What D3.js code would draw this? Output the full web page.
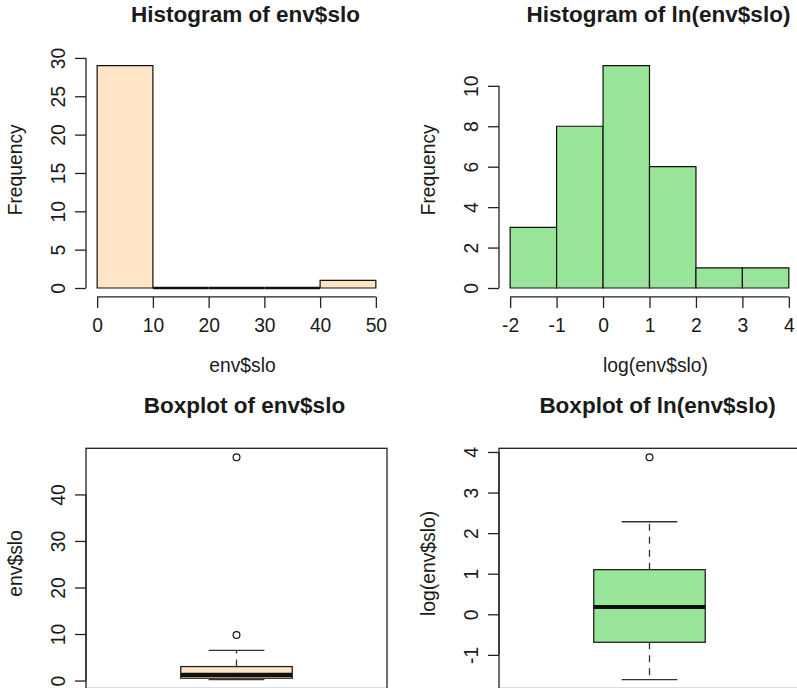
<!DOCTYPE html>
<html>
<head>
<meta charset="utf-8">
<script src="https://cdn.jsdelivr.net/npm/d3@7"></script>
<style>
  body { margin: 0; background: #fff; }
  svg { display: block; }
</style>
</head>
<body>
<script>
// Histogram of raw slope values
const rawBreaks = [0, 10, 20, 30, 40, 50];
const rawCounts = [29, 0, 0, 0, 1];
const rawXTicks = [0, 10, 20, 30, 40, 50];
const rawYTicks = [0, 5, 10, 15, 20, 25, 30];

// Histogram of log-transformed slope values
const logBreaks = [-2, -1, 0, 1, 2, 3, 4];
const logCounts = [3, 8, 11, 6, 1, 1];
const logXTicks = [-2, -1, 0, 1, 2, 3, 4];
const logYTicks = [0, 2, 4, 6, 8, 10];

// Boxplot summaries: lower whisker, Q1, median, Q3, upper whisker
const rawBox = [0.2, 0.5, 1.2, 3.0, 6.5];
const rawOutliers = [9.8, 48];
const rawBoxTicks = [0, 10, 20, 30, 40];
const logBox = [-1.61, -0.69, 0.18, 1.1, 2.28];
const logOutliers = [3.87];
const logBoxTicks = [-1, 0, 1, 2, 3, 4];

const W = 797, H = 688;
const FONT = '"Liberation Sans", Arial, Helvetica, sans-serif';
const INK = "#222";
const BASE = 19.3, MAIN = 22.5;

const svg = d3.select("body").append("svg")
  .attr("width", W).attr("height", H)
  .style("overflow", "hidden");

// panel layout: plot-region left edges per column, top edges per row
const colX = [86, 499], plotW = 301;
const rowY = [56.7, 448.3], plotH = 240.2;
const titleBase = [22, 413];

// R-style 4% range extension
function ext(lo, hi) { const d = (hi - lo) * 0.04; return [lo - d, hi + d]; }

// plain hyphen-minus labels
const fmt = d => String(d);

function title(text, cx, y) {
  svg.append("text").attr("x", cx).attr("y", y)
    .attr("text-anchor", "middle").attr("font-family", FONT)
    .attr("font-weight", "bold").attr("font-size", MAIN).attr("fill", "#1a1a1a")
    .text(text);
}

function yLabel(text, x, cy) {
  svg.append("text").attr("transform", `translate(${x},${cy}) rotate(-90)`)
    .attr("text-anchor", "middle").attr("font-family", FONT)
    .attr("font-size", BASE).attr("fill", "#1a1a1a").text(text);
}

function xLabel(text, cx, y) {
  svg.append("text").attr("x", cx).attr("y", y)
    .attr("text-anchor", "middle").attr("font-family", FONT)
    .attr("font-size", BASE).attr("fill", "#1a1a1a").text(text);
}

function leftAxis(scale, ticks, x) {
  const g = svg.append("g").attr("transform", `translate(${x},0)`)
    .call(d3.axisLeft(scale).tickValues(ticks).tickSize(11).tickSizeOuter(0)
      .tickFormat(fmt));
  g.select(".domain").remove();
  g.append("line")
    .attr("y1", scale(ticks[0])).attr("y2", scale(ticks[ticks.length - 1]))
    .attr("stroke", INK).attr("stroke-width", 1.3);
  g.selectAll(".tick line").attr("stroke", INK).attr("stroke-width", 1.3);
  g.selectAll(".tick text")
    .attr("x", 0).attr("y", 0).attr("dy", null)
    .attr("transform", "translate(-21.5,0) rotate(-90)")
    .attr("text-anchor", "middle")
    .attr("font-family", FONT).attr("font-size", BASE).attr("fill", "#1a1a1a");
  return g;
}

function bottomAxis(scale, ticks, y) {
  const g = svg.append("g").attr("transform", `translate(0,${y})`)
    .call(d3.axisBottom(scale).tickValues(ticks).tickSize(11).tickSizeOuter(0)
      .tickFormat(fmt));
  g.select(".domain").remove();
  g.append("line")
    .attr("x1", scale(ticks[0])).attr("x2", scale(ticks[ticks.length - 1]))
    .attr("stroke", INK).attr("stroke-width", 1.3);
  g.selectAll(".tick line").attr("stroke", INK).attr("stroke-width", 1.3);
  g.selectAll(".tick text")
    .attr("y", 35.5).attr("dy", null)
    .attr("font-family", FONT).attr("font-size", BASE).attr("fill", "#1a1a1a");
  return g;
}

function histogram(col, breaks, counts, xTicks, yTicks, fill, titleText, xlab) {
  const x0 = colX[col], y0 = rowY[0];
  const x = d3.scaleLinear()
    .domain(ext(breaks[0], breaks[breaks.length - 1]))
    .range([x0, x0 + plotW]);
  const y = d3.scaleLinear()
    .domain(ext(0, d3.max(counts)))
    .range([y0 + plotH, y0]);

  const bins = counts.map((c, i) => ({ a: breaks[i], b: breaks[i + 1], c }));
  svg.append("g").selectAll("path").data(bins).join("path")
    .attr("d", d => `M${x(d.a)},${y(0)}H${x(d.b)}V${y(d.c)}H${x(d.a)}Z`)
    .attr("fill", fill)
    .attr("stroke", "#111")
    .attr("stroke-width", d => d.c === 0 ? 2.4 : 1.2);

  leftAxis(y, yTicks, x0);
  bottomAxis(x, xTicks, y0 + plotH);

  title(titleText, x0 + plotW / 2 + 9, titleBase[0]);
  xLabel(xlab, x0 + plotW / 2 + 6, 372);
  yLabel("Frequency", x0 - 64, y0 + plotH / 2 - 7);
}

function boxplot(col, stats, outliers, lo, hi, yTicks, fill, titleText, ylab) {
  const x0 = colX[col], y0 = rowY[1];
  const x = d3.scaleLinear().domain(ext(0.5, 1.5)).range([x0, x0 + plotW]);
  const y = d3.scaleLinear().domain(ext(lo, hi)).range([y0 + plotH, y0]);
  const [wLo, q1, med, q3, wHi] = stats;
  const g = svg.append("g");

  // whiskers (dashed) and caps
  [[q3, wHi], [q1, wLo]].forEach(([a, b]) => {
    g.append("line").attr("x1", x(1)).attr("x2", x(1))
      .attr("y1", y(a)).attr("y2", y(b))
      .attr("stroke", "#333").attr("stroke-width", 1.3)
      .attr("stroke-dasharray", "7,6");
    g.append("line").attr("x1", x(0.9)).attr("x2", x(1.1))
      .attr("y1", y(b)).attr("y2", y(b))
      .attr("stroke", "#333").attr("stroke-width", 1.3);
  });

  // box
  g.append("rect")
    .attr("x", x(0.8)).attr("width", x(1.2) - x(0.8))
    .attr("y", y(q3)).attr("height", y(q1) - y(q3))
    .attr("fill", fill).attr("stroke", "#222").attr("stroke-width", 1.3);

  // median
  g.append("line").attr("x1", x(0.8)).attr("x2", x(1.2))
    .attr("y1", y(med)).attr("y2", y(med))
    .attr("stroke", "#111").attr("stroke-width", 4.2);

  // outliers
  g.selectAll("circle").data(outliers).join("circle")
    .attr("cx", x(1)).attr("cy", d => y(d)).attr("r", 3.4)
    .attr("fill", "none").attr("stroke", "#111").attr("stroke-width", 1.2);

  // frame
  svg.append("rect").attr("x", x0).attr("y", y0)
    .attr("width", plotW).attr("height", plotH)
    .attr("fill", "none").attr("stroke", INK).attr("stroke-width", 1.3);

  leftAxis(y, yTicks, x0);
  title(titleText, x0 + plotW / 2 + 8, titleBase[1]);
  yLabel(ylab, x0 - 64, y0 + plotH / 2 - 5);
}

histogram(0, rawBreaks, rawCounts, rawXTicks, rawYTicks, "#FFE4C6",
  "Histogram of env$slo", "env$slo");
histogram(1, logBreaks, logCounts, logXTicks, logYTicks, "#98E498",
  "Histogram of ln(env$slo)", "log(env$slo)");

boxplot(0, rawBox, rawOutliers, 0.2, 48, rawBoxTicks, "#FFE4C6",
  "Boxplot of env$slo", "env$slo");
boxplot(1, logBox, logOutliers, Math.log(0.2), Math.log(48), logBoxTicks, "#98E498",
  "Boxplot of ln(env$slo)", "log(env$slo)");
</script>
</body>
</html>
